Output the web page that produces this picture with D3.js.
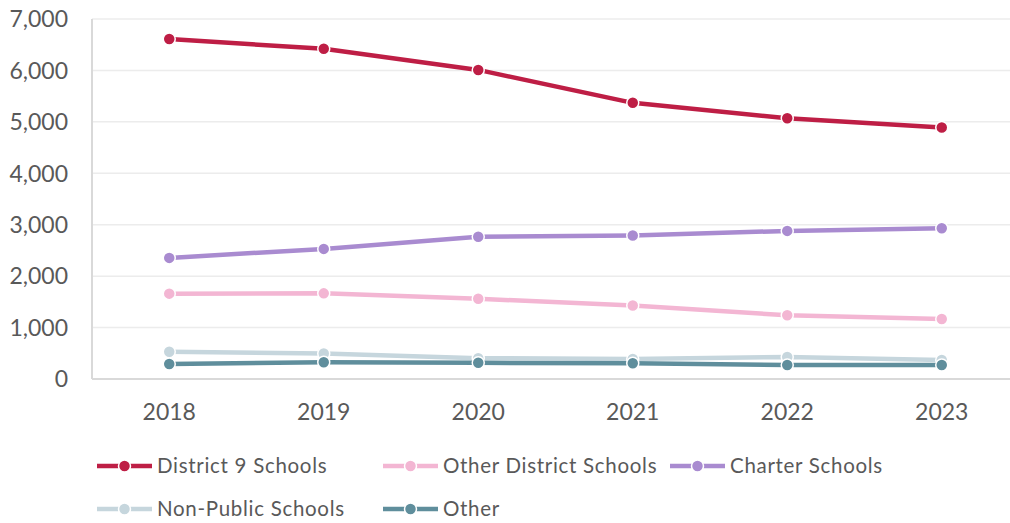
<!DOCTYPE html>
<html lang="en">
<head>
  <meta charset="UTF-8" />
  <title>School Enrollment by Sector (2018–2023)</title>
  <style>
    body { margin: 0; background: #fff; font-family: Lato, 'Open Sans', sans-serif; }
    svg { display: block; }
    .tick-label { font-size: 23px; fill: #595959; }
    .legend-label { font-size: 20.5px; fill: #595959; letter-spacing: 0.7px; }
  </style>
</head>
<body>
  <svg id="chart" width="1010" height="523"></svg>
  <script src="https://d3js.org/d3.v7.min.js"></script>
  <script>
    // Data
    const years = ["2018", "2019", "2020", "2021", "2022", "2023"];
    const yTicks = [0, 1000, 2000, 3000, 4000, 5000, 6000, 7000];
    const seriesNames = ["District 9 Schools", "Other District Schools", "Charter Schools", "Non-Public Schools", "Other"];
    const district9 = [6610, 6420, 6010, 5370, 5070, 4890];
    const otherDistrict = [1660, 1665, 1560, 1430, 1240, 1165];
    const charter = [2355, 2530, 2765, 2790, 2880, 2930];
    const nonPublic = [530, 495, 405, 390, 430, 370];
    const other = [290, 325, 315, 305, 272, 272];
    const seriesColors = ["#be1e45", "#f3b6d3", "#a98bd0", "#c6d6dd", "#5f8e9c"];

    const svg = d3.select("#chart");
    const margin = { top: 19, left: 92, bottom: 144 };
    const plotRight = 1019;
    const plotBottom = 523 - margin.bottom;

    const x = d3.scalePoint().domain(years).range([margin.left, plotRight]).padding(0.5);
    const y = d3.scaleLinear().domain([0, 7000]).range([plotBottom, margin.top]);

    // Gridlines
    svg.append("g")
      .selectAll("line")
      .data(yTicks.filter(d => d > 0))
      .join("line")
      .attr("x1", margin.left).attr("x2", plotRight)
      .attr("y1", d => y(d)).attr("y2", d => y(d))
      .attr("stroke", "#ececec").attr("stroke-width", 1.5);

    // Axis lines
    svg.append("line")
      .attr("x1", margin.left).attr("x2", margin.left)
      .attr("y1", y(7000)).attr("y2", y(0))
      .attr("stroke", "#d9d9d9").attr("stroke-width", 2);
    svg.append("line")
      .attr("x1", margin.left).attr("x2", plotRight)
      .attr("y1", y(0)).attr("y2", y(0))
      .attr("stroke", "#d9d9d9").attr("stroke-width", 2);

    // Y tick labels
    svg.append("g")
      .selectAll("text")
      .data(yTicks)
      .join("text")
      .attr("class", "tick-label")
      .attr("x", 68)
      .attr("y", d => y(d))
      .attr("dy", "0.36em")
      .attr("text-anchor", "end")
      .text(d => d3.format(",")(d));

    // X tick labels
    svg.append("g")
      .selectAll("text")
      .data(years)
      .join("text")
      .attr("class", "tick-label")
      .attr("x", d => x(d))
      .attr("y", 420)
      .attr("text-anchor", "middle")
      .text(d => d);

    const allSeries = [district9, otherDistrict, charter, nonPublic, other];
    const line = d3.line().x((d, i) => x(years[i])).y(d => y(d));

    allSeries.forEach((vals, si) => {
      const g = svg.append("g");
      g.append("path")
        .datum(vals)
        .attr("d", line)
        .attr("fill", "none")
        .attr("stroke", seriesColors[si])
        .attr("stroke-width", 4.5)
        .attr("stroke-linejoin", "round");
      g.selectAll("circle")
        .data(vals)
        .join("circle")
        .attr("cx", (d, i) => x(years[i]))
        .attr("cy", d => y(d))
        .attr("r", 6)
        .attr("fill", seriesColors[si])
        .attr("stroke", "#fff")
        .attr("stroke-width", 1.5);
    });

    // Legend
    const legendPos = [
      { x: 97, y: 466 }, { x: 383, y: 466 }, { x: 670, y: 466 },
      { x: 97, y: 509 }, { x: 383, y: 509 }
    ];
    seriesNames.forEach((name, i) => {
      const p = legendPos[i];
      const g = svg.append("g").attr("transform", `translate(${p.x},${p.y})`);
      g.append("line")
        .attr("x1", 0).attr("x2", 55).attr("y1", 0).attr("y2", 0)
        .attr("stroke", seriesColors[i]).attr("stroke-width", 4.5);
      g.append("circle")
        .attr("cx", 27.5).attr("cy", 0).attr("r", 6)
        .attr("fill", seriesColors[i])
        .attr("stroke", "#fff").attr("stroke-width", 1.5);
      g.append("text")
        .attr("class", "legend-label")
        .attr("x", 60).attr("y", 0).attr("dy", "0.35em")
        .text(name);
    });
  </script>
</body>
</html>
